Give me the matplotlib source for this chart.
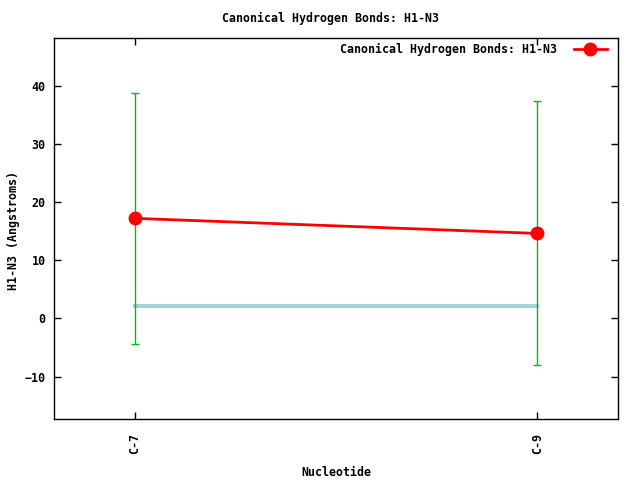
import matplotlib
matplotlib.use("Agg")
import matplotlib.pyplot as plt

categories = ["C-7", "C-9"]
values = [17.2, 14.6]
errors = [21.6, 22.7]
reference = [2.1, 2.1]

plt.rcParams['font.family'] = ['DejaVu Sans Mono']
plt.rcParams['font.weight'] = 'bold'
plt.rcParams['font.size'] = 8.4

fig = plt.figure(figsize=(6.4, 4.8), dpi=100)
ax = fig.add_axes([54/640, 61/480, 564/640, 381/480])
x = list(range(len(categories)))

ax.plot(x, reference, color='#a8d0dc', lw=3, zorder=1)
ax.errorbar(x, values, yerr=errors, fmt='none', ecolor='#00c000', elinewidth=1,
            capsize=3, capthick=1, zorder=2)
ax.plot(x, values, color='red', lw=2, marker='o', markersize=9, zorder=3,
        label='Canonical Hydrogen Bonds: H1-N3')

ax.set_xlim(-0.2, 1.2)
ax.set_ylim(-17.3, 48.2)
ax.set_xticks(x)
ax.set_xticklabels(categories, rotation=90, fontweight='bold')
ax.set_yticks([-10, 0, 10, 20, 30, 40])
ax.tick_params(direction='in', top=True, right=True, length=5, width=1)
ax.tick_params(axis='x', pad=10)
ax.tick_params(axis='y', pad=6)
for s in ax.spines.values():
    s.set_linewidth(1)
fig.text(336/640, 1 - 473/480, 'Nucleotide', ha='center', va='center', fontweight='bold')
fig.text(14/640, 1 - 230/480, 'H1-N3 (Angstroms)', ha='center', va='center',
         rotation=90, fontweight='bold')
fig.text(331/640, 1 - 18/480, 'Canonical Hydrogen Bonds: H1-N3', ha='center', va='center',
         fontweight='bold')
leg = ax.legend(loc='upper right', frameon=False, markerfirst=False, handlelength=2.9,
                handletextpad=1.4, borderaxespad=0.0,
                bbox_to_anchor=(612/640, 1 - 38/480), bbox_transform=fig.transFigure)
fig.savefig('out.png', dpi=100)
